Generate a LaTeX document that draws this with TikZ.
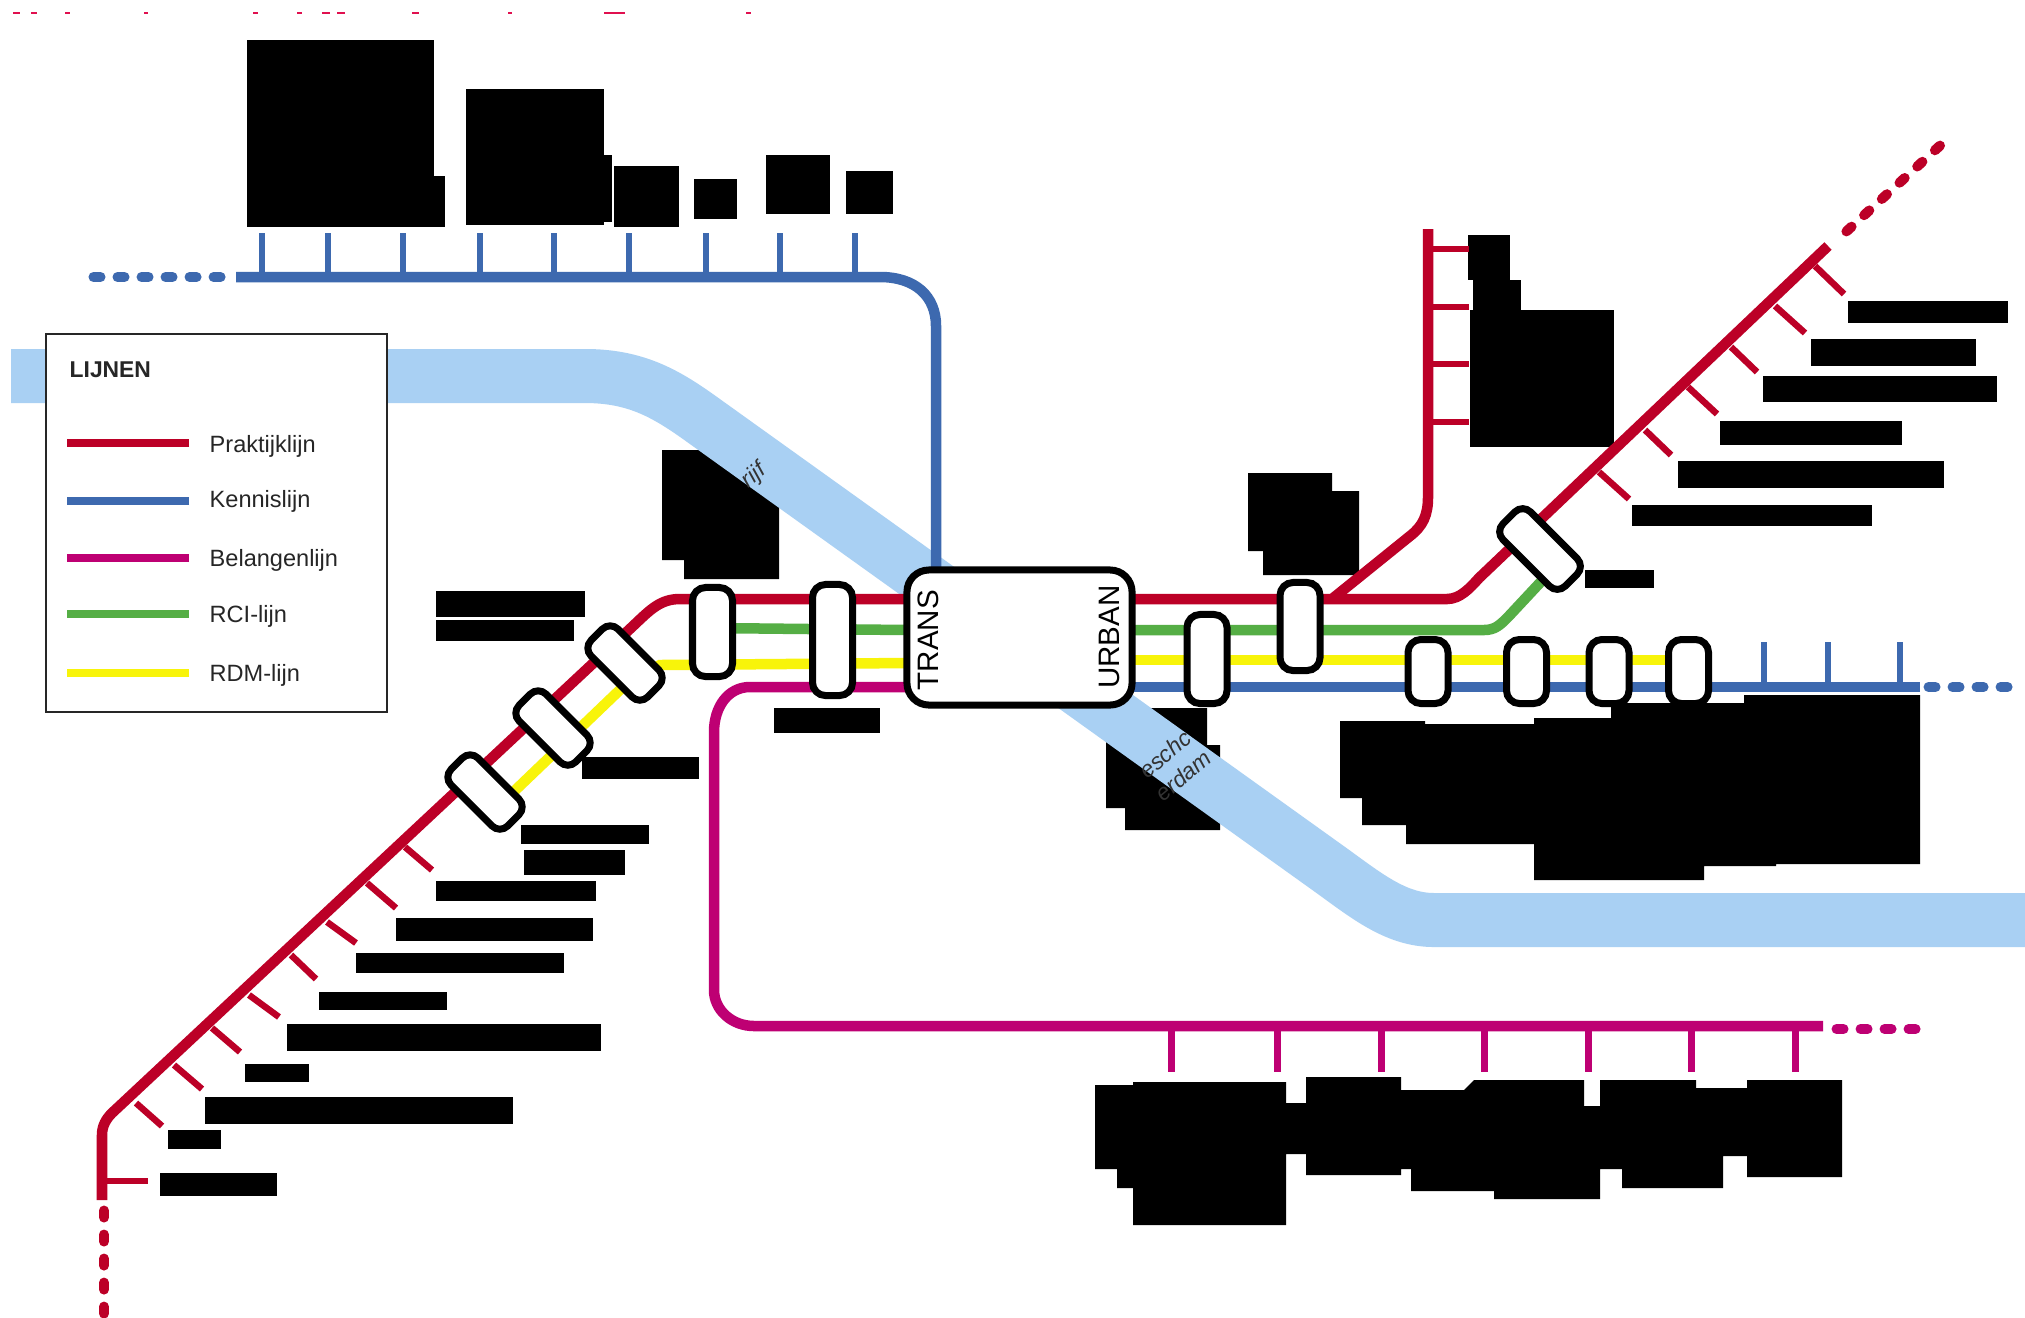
\documentclass[tikz,border=0pt]{standalone}
\usepackage{fontspec}
\setmainfont{Liberation Sans}
\usepackage{xcolor}
\definecolor{praktijkRed}{HTML}{BC0027}
\definecolor{kennisBlue}{HTML}{3D69AF}
\definecolor{belangMagenta}{HTML}{BE0073}
\definecolor{rciGreen}{HTML}{55AE45}
\definecolor{rdmYellow}{HTML}{F8F40A}
\definecolor{riverBlue}{HTML}{A9D0F3}
\definecolor{titleRed}{HTML}{E0104F}
\usetikzlibrary{positioning,calc,backgrounds}
\tikzset{
  metroLine/.style={
    line width=0.105cm
 },
  dotLine/.style={
    line width=0.10cm,
    line cap=round,
    dash pattern=on 0.07cm off 0.17cm
 },
  tickLine/.style={
    line width=0.065cm
 },
  riverLine/.style={
    line width=0.54cm,
    color=riverBlue
 },
  stationBox/.style={
    rectangle,
    rounded corners=0.13cm,
    draw=black,
    fill=white,
    line width=0.07cm,
    inner sep=0pt,
    outer sep=0pt,
    minimum width=0.40cm
 },
  legendText/.style={
    anchor=west,
    inner sep=0pt,
    text=black!85,
    font=\fontsize{6.7pt}{8pt}\selectfont
 },
  hubText/.style={
    rotate=90,
    inner sep=0pt,
    font=\fontsize{8.4pt}{10pt}\selectfont
 },
  riverText/.style={
    rotate=40,
    inner sep=0pt,
    align=center,
    text=black!80,
    font=\fontsize{6.5pt}{8pt}\selectfont\itshape
 }
}

\begin{document}
\begin{tikzpicture}[x=0.01cm,y=-0.01cm]
  \useasboundingbox (0,0) rectangle (2025,1317);

  % hub and stations
  \node[stationBox, rounded corners=0.22cm, minimum width=2.25cm, minimum height=1.35cm] (hub) at (1019.5,637.5) {};
  \node[hubText] (trans) at (928,640) {TRANS};
  \node[hubText] (urban) at (1109,637) {URBAN};
  \node[stationBox, minimum height=0.89cm] (stationA) at (712.5,632) {};
  \node[stationBox, minimum height=1.11cm] (stationB) at (832.5,640) {};
  \node[stationBox, minimum height=0.89cm] (stationC) at (1207,659) {};
  \node[stationBox, minimum height=0.88cm] (stationD) at (1300,626.5) {};
  \foreach \name/\x in {stationE/1428,stationF/1526.5,stationG/1609,stationH/1688.5}
    \node[stationBox, minimum height=0.64cm] (\name) at (\x,671.5) {};
  \foreach \name/\x/\y in {diagA/625/663,diagB/553/728,diagC/485/792}
    \node[stationBox, rotate=-45, rounded corners=0.11cm, minimum width=0.80cm, minimum height=0.38cm] (\name) at (\x,\y) {};
  \node[stationBox, rotate=-45, rounded corners=0.11cm, minimum width=0.88cm, minimum height=0.39cm] (diagD) at (1540,549) {};

  % legend
  \node[draw=black!85, fill=white, line width=0.02cm, minimum width=3.41cm, minimum height=3.77cm, inner sep=0pt, outer sep=0pt] (legend) at (216.5,523) {};
  \node[legendText, font=\fontsize{6.5pt}{8pt}\selectfont\bfseries] (legendTitle) at (69,370) {LIJNEN};
  \foreach \name/\col/\yline/\ylabel in {Praktijklijn/praktijkRed/443/446.5,Kennislijn/kennisBlue/501/501.5,Belangenlijn/belangMagenta/558/560.5,RCI-lijn/rciGreen/614/616.5,RDM-lijn/rdmYellow/673/675.5} {
    \node[legendText] (label\yline) at (209,\ylabel) {\name};
    \draw[\col, line width=0.075cm] (label\yline.west |- 0,\yline) ++(-20,0) -- ++(-122,0);
  }

  \begin{scope}[on background layer]
    \fill[white] (0,0) rectangle (2025,1317);

    % remains of the title
    \foreach \a/\b in {13/20,31/37,65/70,144/148,253/258,297/302,322/330,337/345,412/419,508/512,604/625,746/751}
      \fill[titleRed] (\a,12) rectangle (\b,14);

    % blocks at the top
    \fill (247,40) rectangle (434,227);
    \fill (434,176) rectangle (445,227);
    \fill (466,89) rectangle (604,225);
    \fill (604,155) rectangle (612,222);
    \fill (614,166) rectangle (679,227);
    \fill (694,179) rectangle (737,219);
    \fill (766,155) rectangle (830,214);
    \fill (846,171) rectangle (893,214);

    % blocks in the middle
    \fill (662,450) -- (779,450) -- (779,579) -- (684,579) -- (684,560) -- (662,560) -- cycle;
    \fill (1248,473) -- (1332,473) -- (1332,491) -- (1359,491) -- (1359,575) -- (1263,575) -- (1263,551) -- (1248,551) -- cycle;
    \fill (1106,708) -- (1207,708) -- (1207,745) -- (1220,745) -- (1220,830) -- (1125,830) -- (1125,808) -- (1106,808) -- cycle;
    \fill (1468,235) rectangle (1510,280);
    \fill (1473,280) rectangle (1521,310);
    \fill (1470,310) rectangle (1614,447);

    % blocks on the right
    \fill (1340,721) -- (1425,721) -- (1425,724) -- (1534,724) -- (1534,718) -- (1611,718) -- (1611,703) -- (1744,703) -- (1744,695) -- (1920,695) -- (1920,864) -- (1776,864) -- (1776,866) -- (1704,866) -- (1704,880) -- (1534,880) -- (1534,844) -- (1406,844) -- (1406,825) -- (1362,825) -- (1362,798) -- (1340,798) -- cycle;
    \fill (1095,1085) -- (1133,1085) -- (1133,1082) -- (1286,1082) -- (1286,1103) -- (1306,1103) -- (1306,1077) -- (1401,1077) -- (1401,1090) -- (1464,1090) -- (1474,1080) -- (1584,1080) -- (1584,1106) -- (1600,1106) -- (1600,1080) -- (1696,1080) -- (1696,1088) -- (1747,1088) -- (1747,1080) -- (1842,1080) -- (1842,1177) -- (1747,1177) -- (1747,1156) -- (1723,1156) -- (1723,1188) -- (1622,1188) -- (1622,1169) -- (1600,1169) -- (1600,1199) -- (1494,1199) -- (1494,1191) -- (1411,1191) -- (1411,1169) -- (1401,1169) -- (1401,1175) -- (1306,1175) -- (1306,1154) -- (1286,1154) -- (1286,1225) -- (1133,1225) -- (1133,1188) -- (1117,1188) -- (1117,1169) -- (1095,1169) -- cycle;

    % bars
    \foreach \a/\b/\c/\d in {1848/301/2008/323,1811/339/1976/366,1763/376/1997/402,1720/421/1902/445,1678/461/1944/488,1632/505/1872/526,1585/570/1654/588,
      436/591/585/617,436/620/574/641,582/757/699/779,521/825/649/844,524/850/625/875,436/881/596/901,396/918/593/941,356/953/564/973,319/992/447/1010,287/1024/601/1051,245/1064/309/1082,205/1097/513/1124,168/1130/221/1149,160/1173/277/1196,774/708/880/733}
      \fill (\a,\b) rectangle (\c,\d);

    % river
    \draw[riverLine] (11,376) -- (585,376) .. controls (635,376) and (665,393) .. (700,418) -- (1328,868) .. controls (1365,894.5) and (1395,920) .. (1434,920) -- (2025,920);
    \node[riverText] (riverNameA) at (754,476) {rijf};
    \node[riverText] (riverNameB) at (1174,765) {eschc\\erdam};

    % blue line
    \draw[kennisBlue, metroLine] (236,277) -- (880,277) .. controls (915,277) and (936,296) .. (936,326) -- (936,326 |- hub.north);
    \foreach \x in {262,328,403,480,554,629,706,780,855}
      \draw[kennisBlue, tickLine] (\x,277) -- (\x,233);
    \draw[kennisBlue, dotLine] (93.5,277) -- (221,277);
    \draw[kennisBlue, metroLine] (hub.east |- 0,687) -- (1920,687);
    \foreach \x in {1764,1828,1900}
      \draw[kennisBlue, tickLine] (\x,687) -- (\x,642);
    \draw[kennisBlue, dotLine] (1928.5,687) -- (2008,687);

    % red line
    \draw[praktijkRed, metroLine] (hub.west |- 0,599) -- (680,599) .. controls (660,599) and (650,610) .. (633,626) -- (112,1113) .. controls (106,1119) and (102,1126) .. (102,1135) -- (102,1200);
    \draw[praktijkRed, metroLine] (hub.east |- 0,599) -- (1447,599) .. controls (1460,599) and (1470,588) .. (1479,578) -- (1828,246);
    \draw[praktijkRed, metroLine] (1428,229) -- (1428,497) .. controls (1428,515) and (1423,526) .. (1410,536) -- (1332,599);
    \foreach \a/\b/\c/\d in {405/847/432/870,367/883/396/908,327/922/356/943,291/955/316/979,249/995/279/1017,212/1028/240/1052,174/1065/202/1089,136/1103/162/1126,106/1181/148/1181,
      1815/266/1844/294,1775/306/1805/333,1731/347/1757/372,1688/387/1717/414,1645/430/1671/455,1599/472/1629/499,
      1428/249/1469/249,1428/307/1469/307,1428/364/1469/364,1428/422/1469/422}
      \draw[praktijkRed, tickLine] (\a,\b) -- (\c,\d);
    \draw[praktijkRed, dotLine] (104,1210.5) -- (104,1314);
    \draw[praktijkRed, dotLine] (1846.4,231.4) -- (1940,145.6);

    % green line
    \draw[rciGreen, metroLine] (hub.west |- 0,630) -- (stationA.center |- 0,628);
    \draw[rciGreen, metroLine] (hub.east |- 0,630) -- (1484,630) .. controls (1495,630) and (1500,625) .. (1508,617) -- (1550,572);

    % yellow line
    \draw[rdmYellow, metroLine] (hub.west |- 0,663) -- (660,665) -- (625,685) -- (505,800);
    \draw[rdmYellow, metroLine] (hub.east |- 0,660) -- (stationH.center |- 0,660);

    % magenta line
    \draw[belangMagenta, metroLine] (hub.west |- 0,687) -- (750,687) .. controls (728,687) and (714,707) .. (714,732) -- (714,990) .. controls (714,1010) and (732,1026) .. (754,1026) -- (1823,1026);
    \foreach \x in {1171,1277,1381,1484,1588,1691,1795}
      \draw[belangMagenta, line width=0.07cm] (\x,1026) -- (\x,1072);
    \draw[belangMagenta, dotLine] (1836.5,1029) -- (1916,1029);
  \end{scope}
\end{tikzpicture}
\end{document}
